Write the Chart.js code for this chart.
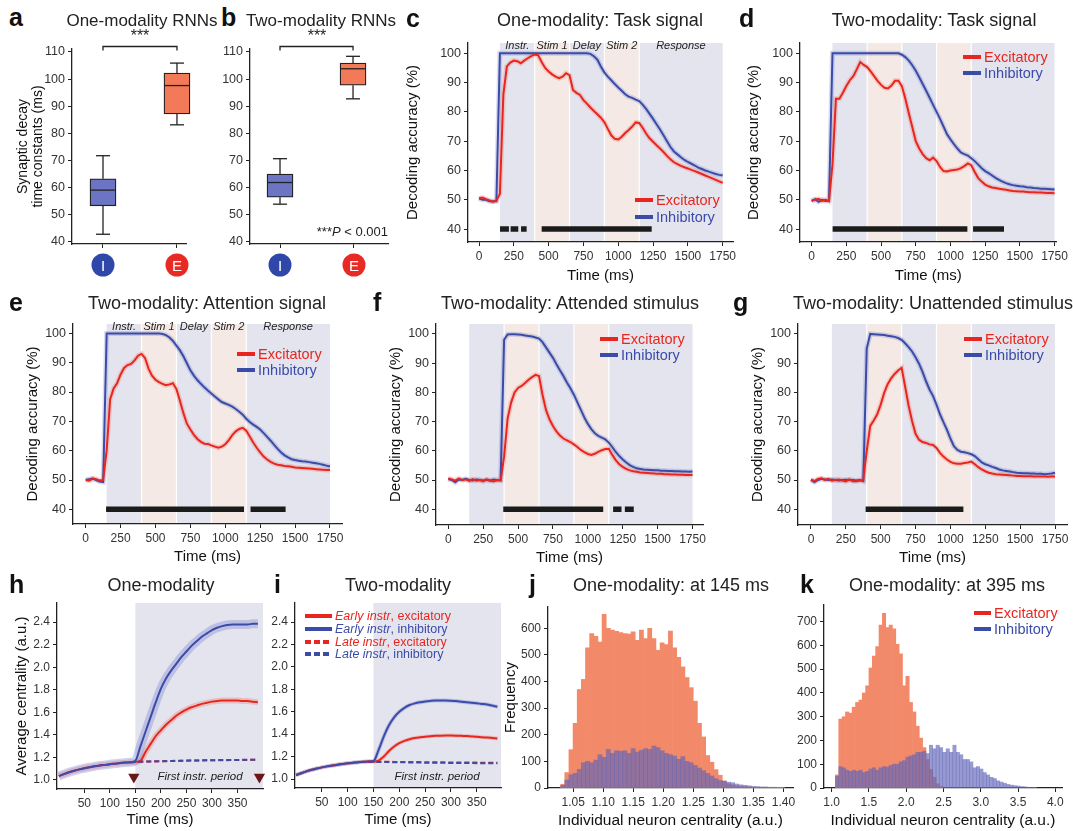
<!DOCTYPE html>
<html>
<head>
<meta charset="utf-8">
<script src="https://cdn.jsdelivr.net/npm/chart.js@4.4.0/dist/chart.umd.min.js"></script>
<style>
body{margin:0;background:#fff;width:1073px;height:831px;position:relative;overflow:hidden;font-family:'Liberation Sans',Arial,sans-serif;color:#222}
canvas{position:absolute}
.t{position:absolute;white-space:nowrap;line-height:1}
.ttl{font-size:18px;transform:translate(-50%,-50%);color:#222}
.let{font-size:25px;font-weight:bold;transform:translateY(-50%);color:#111}
.lg{transform:translateY(-50%)}
.mk{position:absolute}
.circ{position:absolute;width:23px;height:23px;border-radius:50%;color:#fff;font-size:15px;text-align:center;line-height:23px;transform:translate(-50%,-50%)}
</style>
</head>
<body>
<script>
// ---------- data ----------
// box plots: [min, q1, median, q3, max]
var boxPos = [1, 2];
var oneI = [42.7, 53.2, 59, 63.2, 71.7];
var oneE = [83.1, 87.1, 97.6, 102.2, 105.9];
var twoI = [53.8, 56.4, 61.8, 64.9, 70.6];
var twoE = [92.7, 97.7, 103.8, 105.9, 108.4];
var boxTicks = [40, 50, 60, 70, 80, 90, 100, 110];

// decoding accuracy, sampled every 25 ms
var T = [0,25,50,75,100,125,150,175,200,225,250,275,300,325,350,375,400,425,450,475,500,525,550,575,600,625,650,675,700,725,750,775,800,825,850,875,900,925,950,975,1000,1025,1050,1075,1100,1125,1150,1175,1200,1225,1250,1275,1300,1325,1350,1375,1400,1425,1450,1475,1500,1525,1550,1575,1600,1625,1650,1675,1700,1725,1750];
var cInh = [50.5,50,50,49.5,49.5,49.5,100,100,100,100,100,100,100,100,100,100,100,100,100,100,100,100,100,100,100,100,100,100,100,100,100,100,99.8,99,97.8,95.5,93.5,92,90.8,89.5,88.3,87.2,86,85.2,84.8,84.2,83.7,82.5,81,79.3,77.6,75.8,74,72,70,68,66.5,65.5,64.5,63.6,62.9,62.3,61.7,61,60.5,60,59.6,59.2,58.8,58.5,58.3];
var cExc = [50.5,50.8,50.2,49.8,49.3,49.8,52,86,95.5,96.8,97.5,97.3,96.6,97.5,98.3,99,99.6,99.3,97,95,93.8,92.8,92,91.5,92,93.2,92.5,87.5,86.5,85.8,84,82.8,81.5,80.3,79.2,78,76.5,74.2,72,70.8,70.6,71.5,72.8,73.8,75,76.4,76.2,74.6,72.6,71,69.8,68.6,67.5,66.3,65,63.8,62.8,62.2,61.6,61.1,60.7,60.2,59.8,59.3,58.8,58.3,57.8,57.3,56.8,56.3,55.8];
var dInh = [49.5,50.2,49.3,50,49.6,49.8,100,100,100,100,100,100,100,100,100,100,100,100,100,100,100,100,100,100,100,100,99.5,98.7,97.5,95.9,94,91.8,89.5,87.2,84.8,82.4,80,77.6,75,72.4,70.6,69,67.5,66.2,65.6,65.1,64.2,63.2,62,60.8,59.8,59.1,58.3,57.5,56.8,56.2,55.7,55.3,55,54.8,54.6,54.5,54.3,54.2,54,53.9,53.8,53.8,53.7,53.6,53.5];
var dExc = [49.8,50,50.3,49.6,50,49.5,62,84.5,84.5,86.5,88.8,90.8,92.2,94.5,97,96,95.3,93.8,92.2,90.6,89.2,88.2,88,89,90.6,90.6,88.8,84.5,79.5,74.8,70,67.5,65.6,64.2,63.5,64.4,63.2,61.2,59.8,59.7,60,60.2,60.3,60.8,61.5,62.4,61.8,59.5,57.4,56.2,55.2,54.6,54.2,54,53.8,53.6,53.4,53.2,53,52.9,52.8,52.8,52.7,52.6,52.6,52.5,52.5,52.4,52.3,52.3,52.2];
var eInh = [50,50.3,50.5,50,49.5,49.3,100,100,100,100,100,100,100,100,100,100,100,100,100,100,100,100,99.8,99.4,98.6,97.4,95.8,94.2,92.2,89.8,87.4,85.6,84.1,82.8,81.6,80.5,79.5,78.5,77.5,76.6,76.1,75.6,75,74.2,73.3,72.3,70.9,69.8,68.9,68.1,67.2,66,64.7,63.4,62,60.6,59.4,58.4,57.7,57.1,56.8,56.6,56.4,56.3,56.1,55.9,55.7,55.5,55.2,54.9,54.6];
var eExc = [50,49.8,50.5,50.3,49.8,50,60,77.5,81.2,83,86,88.2,89.2,89.6,90.8,92.4,93,91.6,88,85.6,84.2,83.4,82.8,82.3,82.6,83,81,77,72.8,69.2,67.2,65.4,64,63,62.4,62.3,61.8,61.4,61,61.4,62.2,63.6,65.3,66.6,67.4,67.8,66.8,64.8,62.8,61,59.4,58,57,56.2,55.6,55.2,55,54.8,54.7,54.5,54.3,54.2,54.1,54,53.9,53.8,53.7,53.6,53.5,53.4,53.4];
var fInh = [50.3,50,49.2,50.2,50,50.4,50,49.8,50.2,50,49.8,50.1,49.8,50.2,49.9,50,98,99.8,99.9,99.9,99.8,99.7,99.5,99.3,99.1,98.8,98.4,97.2,95.4,93.6,91.8,89.6,87.6,85.6,83.4,81.4,79.2,76.6,74,71.4,69.2,67.4,66,65.1,64.5,63.9,62.8,61.3,59.6,58.2,57,56,55.1,54.5,54,53.8,53.6,53.5,53.4,53.3,53.3,53.2,53.2,53.1,53.1,53,53,52.9,52.9,52.8,52.9];
var fExc = [50.5,50.2,49.8,50.5,50,50.2,49.7,50.3,49.8,50,49.6,50.2,49.8,49.5,50,49.8,58,71,76.5,80,81.5,82.2,83.2,84.3,85.2,86,85.6,79.2,74,70.8,68.5,66.6,65.2,64.2,63.6,63,62.2,61.3,60.3,59.5,58.9,58.6,59,59.6,60.2,60.6,60.7,58.6,56.8,55.4,54.5,53.8,53.3,53,52.8,52.6,52.5,52.4,52.3,52.2,52.1,52.1,52,52,51.9,51.9,51.8,51.8,51.7,51.7,51.7];
var gInh = [50,49.3,50,50.4,50.2,50,50.2,50,49.8,50,50.1,50,50,49.8,50,49.6,95,100,99.9,99.8,99.7,99.6,99.4,99.2,99,98.6,98,96.8,95.5,94,92,89.8,87,83.8,81,78.8,75.8,72.5,69.8,67.2,64.2,61.6,60.3,59.7,59.5,59.2,58.8,58.2,57.1,56,55.4,55,54.5,54.1,53.6,53.3,53.1,52.9,52.7,52.5,52.4,52.3,52.3,52.2,52.2,52.1,52.1,52,52.1,52.2,52.5];
var gExc = [50.2,49.6,50.4,50.6,50,50.4,49.8,50,50.2,49.8,49.5,50.2,49.6,49.6,49.8,50,60,68.5,70.4,72.5,75.8,79.8,82.8,84.8,86.3,87.5,88.4,82,75.5,70.2,65.8,63.8,63,62.7,62.2,62,61,59.3,58,57,56.2,55.7,55.6,55.6,55.8,56,56.3,55.4,54.4,53.6,53,52.5,52.2,52,51.9,51.8,51.7,51.6,51.5,51.4,51.4,51.3,51.3,51.3,51.2,51.2,51.2,51.2,51.1,51.2,51.2];
// significance segments (ms)
var cSig = [[151, 215], [227, 282], [302, 342], [450, 1240]];
var dSig = [[151, 1122], [1163, 1386]];
var eSig = [[146, 1134], [1181, 1432]];
var fSig = [[394, 1110], [1181, 1241], [1265, 1329]];
var gSig = [[392, 1093]];
var phaseEdges = [150, 400, 650, 900, 1150, 1750];
var phaseNames = ['Instr.', 'Stim 1', 'Delay', 'Stim 2', 'Response'];
var accTicks = [40, 50, 60, 70, 80, 90, 100];
var timeTicks = [0, 250, 500, 750, 1000, 1250, 1500, 1750];

// average centrality, every 10 ms
var H = [0,10,20,30,40,50,60,70,80,90,100,110,120,130,140,150,160,170,180,190,200,210,220,230,240,250,260,270,280,290,300,310,320,330,340,350,360,370,380,390];
var hEarlyInh = [1.035,1.052,1.068,1.082,1.094,1.104,1.113,1.121,1.128,1.134,1.14,1.145,1.15,1.154,1.157,1.17,1.30,1.43,1.56,1.69,1.81,1.90,1.97,2.03,2.09,2.14,2.19,2.23,2.27,2.30,2.33,2.35,2.365,2.375,2.38,2.38,2.38,2.38,2.385,2.385];
var hEarlyExc = [1.035,1.052,1.068,1.082,1.094,1.104,1.113,1.121,1.128,1.134,1.14,1.145,1.15,1.154,1.157,1.16,1.17,1.25,1.32,1.39,1.44,1.49,1.53,1.57,1.60,1.625,1.645,1.66,1.675,1.685,1.695,1.70,1.705,1.705,1.705,1.705,1.70,1.70,1.695,1.69];
var hLateInh = [null,null,null,null,null,null,null,null,null,null,null,null,null,null,1.157,1.16,1.162,1.164,1.165,1.166,1.167,1.168,1.169,1.17,1.171,1.172,1.173,1.173,1.174,1.175,1.176,1.176,1.177,1.177,1.178,1.178,1.179,1.179,1.18,1.18];
var hLateExc = [null,null,null,null,null,null,null,null,null,null,null,null,null,null,1.157,1.159,1.161,1.163,1.164,1.165,1.166,1.167,1.168,1.169,1.17,1.171,1.172,1.172,1.173,1.174,1.175,1.175,1.176,1.176,1.177,1.177,1.178,1.178,1.179,1.179];
var iEarlyInh = [1.035,1.052,1.068,1.082,1.094,1.104,1.113,1.121,1.128,1.134,1.14,1.145,1.15,1.154,1.157,1.16,1.26,1.38,1.48,1.55,1.60,1.635,1.66,1.675,1.685,1.692,1.697,1.70,1.70,1.70,1.698,1.695,1.69,1.685,1.68,1.675,1.67,1.665,1.655,1.645];
var iEarlyExc = [1.035,1.052,1.068,1.082,1.094,1.104,1.113,1.121,1.128,1.134,1.14,1.145,1.15,1.154,1.157,1.155,1.165,1.20,1.25,1.29,1.32,1.34,1.355,1.365,1.372,1.378,1.382,1.385,1.387,1.388,1.388,1.387,1.385,1.383,1.38,1.377,1.373,1.37,1.366,1.362];
var iLateInh = [null,null,null,null,null,null,null,null,null,null,null,null,null,null,1.155,1.154,1.153,1.152,1.151,1.15,1.15,1.149,1.148,1.148,1.147,1.146,1.146,1.145,1.145,1.144,1.144,1.143,1.143,1.142,1.142,1.141,1.141,1.141,1.14,1.14];
var iLateExc = [null,null,null,null,null,null,null,null,null,null,null,null,null,null,1.155,1.155,1.155,1.154,1.154,1.153,1.153,1.152,1.152,1.151,1.151,1.15,1.15,1.15,1.149,1.149,1.148,1.148,1.148,1.147,1.147,1.147,1.146,1.146,1.146,1.145];
var markT = [147, 393];
var markY = [1.027, 1.027];
var centTicksY = [1.0, 1.2, 1.4, 1.6, 1.8, 2.0, 2.2, 2.4];
var centTicksX = [50, 100, 150, 200, 250, 300, 350];

// histograms
var jBins = [1.0325,1.0394,1.0463,1.0532,1.0601,1.0670,1.0739,1.0808,1.0877,1.0946,1.1015,1.1084,1.1153,1.1222,1.1291,1.1360,1.1429,1.1498,1.1567,1.1636,1.1705,1.1774,1.1843,1.1912,1.1981,1.2050,1.2119,1.2188,1.2257,1.2326,1.2395,1.2464,1.2533,1.2602,1.2671,1.2740,1.2809,1.2878,1.2947,1.3016,1.3085,1.3154,1.3223,1.3292,1.3361,1.3430,1.3499,1.3568,1.3637,1.3706,1.3775,1.3844,1.3913,1.3982];
var jExc = [14,58,144,243,370,408,527,580,570,548,652,600,593,589,584,580,578,587,555,593,561,600,561,517,545,539,590,527,491,455,415,377,326,243,192,122,97,69,48,27,16,12,8,6,5,4,3,3,2,2,1,1,1,1];
var jInh = [10,30,50,55,70,95,100,95,105,125,115,145,130,140,138,140,130,148,135,142,148,145,158,152,140,130,125,120,108,118,100,95,85,75,65,55,45,35,28,25,22,20,15,12,10,8,6,5,4,4,3,3,2,2];
var kBins = [1.0725,1.1175,1.1625,1.2075,1.2525,1.2975,1.3425,1.3875,1.4325,1.4775,1.5225,1.5675,1.6125,1.6575,1.7025,1.7475,1.7925,1.8375,1.8825,1.9275,1.9725,2.0175,2.0625,2.1075,2.1525,2.1975,2.2425,2.2875,2.3325,2.3775,2.4225,2.4675,2.5125,2.5575,2.6025,2.6475,2.6925,2.7375,2.7825,2.8275,2.8725,2.9175,2.9625,3.0075,3.0525,3.0975,3.1425,3.1875,3.2325,3.2775,3.3225,3.3675,3.4125,3.4575,3.5025,3.5475,3.5925,3.6375,3.6825,3.7275];
var kExc = [55,290,300,320,315,340,360,370,400,430,505,555,595,685,735,675,685,670,605,565,430,470,360,320,260,210,170,120,78,45,18,6,0,0,0,0,0,0,0,0,0,0,0,0,0,0,0,0,0,0,0,0,0,0,0,0,0,0,0,0];
var kInh = [50,90,85,75,70,75,70,75,65,70,80,85,75,85,90,88,95,100,100,110,115,130,135,140,150,150,155,145,180,165,180,170,150,165,150,180,150,140,120,120,110,85,90,80,65,55,45,40,30,25,20,15,12,10,8,6,5,3,2,2];
var jTicksX = [1.05, 1.10, 1.15, 1.20, 1.25, 1.30, 1.35, 1.40];
var jTicksY = [0, 100, 200, 300, 400, 500, 600];
var kTicksX = [1.0, 1.5, 2.0, 2.5, 3.0, 3.5, 4.0];
var kTicksY = [0, 100, 200, 300, 400, 500, 600, 700];

// ---------- helpers ----------
var FONT = "'Liberation Sans', Arial, sans-serif";
Chart.defaults.font.family = FONT;
Chart.defaults.color = '#333';
var RED = '#e8261f', BLUE = '#3b4ba8';

function txt(html, x, y, cls, style) {
  var d = document.createElement('div');
  d.className = 't ' + cls;
  d.style.left = x + 'px';
  d.style.top = y + 'px';
  if (style) d.style.cssText += style;
  d.innerHTML = html;
  document.body.appendChild(d);
}

function legend(x, ys, rows, fs, mw) {
  rows.forEach(function(r, i) {
    var mk = document.createElement('div');
    mk.className = 'mk';
    var bg = r.dash ? 'repeating-linear-gradient(90deg,' + r.c + ' 0 6px,transparent 6px 9px)' : r.c;
    mk.style.cssText = 'left:' + x + 'px;top:' + (ys[i] - 2) + 'px;width:' + mw + 'px;height:4px;background:' + bg;
    document.body.appendChild(mk);
    txt(r.t, x + mw + 3, ys[i], 'lg', 'font-size:' + fs + 'px;color:' + r.c);
  });
}

function place(area, m) {
  var cv = document.createElement('canvas');
  var w = area[2] - area[0] + m[0] + m[2], h = area[3] - area[1] + m[1] + m[3];
  cv.width = w; cv.height = h;
  cv.style.left = (area[0] - m[0]) + 'px';
  cv.style.top = (area[1] - m[1]) + 'px';
  cv.style.width = w + 'px';
  cv.style.height = h + 'px';
  document.body.appendChild(cv);
  return cv;
}

function axis(o) {
  return {
    type: 'linear', min: o.min, max: o.max, offset: false,
    afterBuildTicks: function(s) { s.ticks = o.ticks.map(function(v) { return {value: v}; }); },
    afterFit: function(s) { if (o.h) s.height = o.fit; else s.width = o.fit; },
    grid: {display: true, drawOnChartArea: false, drawTicks: true, tickLength: 4, color: '#222', offset: false},
    border: {display: true, color: '#222', width: 1.3},
    ticks: {color: '#333', font: {size: o.size || 12}, padding: 3, maxRotation: 0, autoSkip: false,
      callback: o.fmt || function(v) { return String(v); }},
    title: o.title ? {display: true, text: o.title, color: '#111',
      font: {size: o.tsize || 15, lineHeight: o.tlh || 1.2},
      padding: o.h ? {top: 0, bottom: o.tpad} : {top: o.tpad, bottom: 0}} : {display: false}
  };
}

function pts(xs, ys) { return xs.map(function(x, i) { return {x: x, y: ys[i]}; }); }
function sigData(segs) {
  var d = [];
  segs.forEach(function(s) { d.push({x: s[0], y: 40}, {x: s[1], y: 40}, {x: s[1], y: null}); });
  return d;
}

var bandPlugin = {
  id: 'bands',
  beforeDraw: function(chart, args, o) {
    if (!o || !o.edges) return;
    var ctx = chart.ctx, a = chart.chartArea, x = chart.scales.x;
    ctx.save();
    for (var i = 0; i < o.edges.length - 1; i++) {
      var x0 = x.getPixelForValue(o.edges[i]), x1 = x.getPixelForValue(o.edges[i + 1]);
      ctx.fillStyle = o.colors[i % o.colors.length];
      ctx.fillRect(x0, a.top, x1 - x0, a.bottom - a.top);
      if (i > 0) { ctx.fillStyle = '#fff'; ctx.fillRect(x0 - 0.6, a.top, 1.2, a.bottom - a.top); }
    }
    if (o.labels) {
      ctx.fillStyle = '#222';
      ctx.font = 'italic 11px ' + FONT;
      ctx.textAlign = 'center';
      ctx.textBaseline = 'middle';
      for (var k = 0; k < o.labels.length; k++) {
        var cx = (x.getPixelForValue(o.edges[k]) + x.getPixelForValue(o.edges[k + 1])) / 2;
        ctx.fillText(o.labels[k], cx, a.top + 3);
      }
    }
    ctx.restore();
  }
};

var boxPlugin = {
  id: 'boxes',
  afterDatasetsDraw: function(chart, args, o) {
    if (!o || !o.stats) return;
    var ctx = chart.ctx, a = chart.chartArea, x = chart.scales.x, y = chart.scales.y;
    function line(x0, y0, x1, y1) { ctx.beginPath(); ctx.moveTo(x0, y0); ctx.lineTo(x1, y1); ctx.stroke(); }
    ctx.save();
    ctx.strokeStyle = '#222';
    ctx.lineWidth = 1.3;
    o.stats.forEach(function(s, i) {
      var px = x.getPixelForValue(o.pos[i]);
      line(px, y.getPixelForValue(s[0]), px, y.getPixelForValue(s[1]));
      line(px, y.getPixelForValue(s[3]), px, y.getPixelForValue(s[4]));
      line(px - 7, y.getPixelForValue(s[0]), px + 7, y.getPixelForValue(s[0]));
      line(px - 7, y.getPixelForValue(s[4]), px + 7, y.getPixelForValue(s[4]));
      line(px - 13, y.getPixelForValue(s[2]), px + 13, y.getPixelForValue(s[2]));
    });
    var b0 = x.getPixelForValue(o.pos[0]), b1 = x.getPixelForValue(o.pos[1]), by = a.top - 2.5;
    ctx.beginPath();
    ctx.moveTo(b0, by + 4); ctx.lineTo(b0, by); ctx.lineTo(b1, by); ctx.lineTo(b1, by + 4);
    ctx.stroke();
    ctx.restore();
  }
};

function baseOpts(m, xs, ys, extra) {
  var o = {
    responsive: false, animation: false, events: [],
    layout: {padding: {top: m[1], right: m[2], left: 0, bottom: 0}},
    plugins: {legend: {display: false}, tooltip: {enabled: false}},
    elements: {point: {radius: 0}},
    scales: {x: xs, y: ys}
  };
  for (var k in extra) o.plugins[k] = extra[k];
  return o;
}

// ---------- box plots a, b ----------
function boxPanel(area, m, xr, stats, ytitle) {
  var cv = place(area, m);
  new Chart(cv, {
    type: 'bar',
    data: {datasets: [{
      data: [{x: boxPos[0], y: [stats[0][1], stats[0][3]]}, {x: boxPos[1], y: [stats[1][1], stats[1][3]]}],
      backgroundColor: ['#6c74c4', '#f27a58'], borderColor: '#222', borderWidth: 1.3,
      borderSkipped: false, barThickness: 26, clip: false
    }]},
    options: baseOpts(m,
      axis({min: xr[0], max: xr[1], ticks: boxPos, h: true, fit: m[3], fmt: function() { return ''; }}),
      axis({min: 39.1, max: 111.1, ticks: boxTicks, fit: m[0], size: 12.5,
        title: ytitle, tsize: 14, tlh: 1.1, tpad: 5}),
      {boxes: {stats: stats, pos: boxPos}}),
    plugins: [boxPlugin]
  });
}
boxPanel([72, 49, 186, 244], [62, 14, 12, 14], [0.581, 2.122], [oneI, oneE], ['Synaptic decay', 'time constants (ms)']);
boxPanel([250, 49, 388, 244], [45, 14, 12, 14], [0.589, 2.479], [twoI, twoE], null);

// ---------- decoding accuracy c-g ----------
function accPanel(area, m, xr, yr, inh, exc, sig, labels, ytp, xtp) {
  var cv = place(area, m);
  new Chart(cv, {
    type: 'line',
    data: {datasets: [
      {data: pts(T, exc), borderColor: RED, borderWidth: 2, order: 0},
      {data: pts(T, inh), borderColor: BLUE, borderWidth: 2, order: 1},
      {data: pts(T, exc), borderColor: 'rgba(235,80,70,0.22)', borderWidth: 5, order: 2},
      {data: pts(T, inh), borderColor: 'rgba(80,95,185,0.22)', borderWidth: 5, order: 3},
      {data: sigData(sig), borderColor: '#1b1b1b', borderWidth: 5.5, borderCapStyle: 'butt', order: 4}
    ]},
    options: baseOpts(m,
      axis({min: xr[0], max: xr[1], ticks: timeTicks, h: true, fit: m[3], title: 'Time (ms)', tpad: xtp}),
      axis({min: yr[0], max: yr[1], ticks: accTicks, fit: m[0], size: 12.5, title: 'Decoding accuracy (%)', tpad: ytp}),
      {bands: {edges: phaseEdges, colors: ['#e3e4ee', '#f4e9e4'], labels: labels}}),
    plugins: [bandPlugin]
  });
}
accPanel([468, 43, 733, 242], [66, 12, 12, 46], [-79, 1824], [35.6, 103.5], cInh, cExc, cSig, phaseNames, 2, 3);
accPanel([800, 43, 1057, 242], [60, 12, 14, 46], [-84, 1764], [35.6, 103.5], dInh, dExc, dSig, null, 5, 3);
accPanel([73, 324, 342, 524], [62, 12, 12, 46], [-91, 1836], [35.0, 103.2], eInh, eExc, eSig, phaseNames, 12.8, 4);
accPanel([436, 324, 703, 525], [62, 12, 12, 46], [-88, 1825], [34.6, 103.4], fInh, fExc, fSig, null, 12.5, 4);
accPanel([798, 324, 1067, 525], [62, 12, 6, 46], [-93, 1836], [34.6, 103.4], gInh, gExc, gSig, null, 12.5, 4);

// ---------- centrality h, i ----------
function centPanel(area, m, xr, ei, ee, li, le, ytitle, ytp, bandEnd, markers, haloW) {
  var cv = place(area, m);
  var ds = [
    {data: pts(H, li), borderColor: BLUE, borderDash: [5, 3], borderWidth: 2, order: 0},
    {data: pts(H, le), borderColor: RED, borderDash: [5, 3], borderWidth: 2, order: 1},
    {data: pts(H, ei), borderColor: BLUE, borderWidth: 2, order: 2, cubicInterpolationMode: 'monotone'},
    {data: pts(H, ee), borderColor: RED, borderWidth: 2, order: 3, cubicInterpolationMode: 'monotone'},
    {data: pts(H, ei), borderColor: 'rgba(90,100,200,0.28)', borderWidth: haloW[0], order: 4, cubicInterpolationMode: 'monotone'},
    {data: pts(H, ee), borderColor: 'rgba(240,110,90,0.3)', borderWidth: haloW[1], order: 5, cubicInterpolationMode: 'monotone'}
  ];
  if (markers) ds.push({data: pts(markT, markY), showLine: false, pointRadius: 6.5, pointStyle: 'triangle',
    pointRotation: 180, pointBackgroundColor: '#6b1717', pointBorderWidth: 0, clip: false, order: -1});
  new Chart(cv, {
    type: 'line',
    data: {datasets: ds},
    options: baseOpts(m,
      axis({min: xr[0], max: xr[1], ticks: centTicksX, h: true, fit: m[3], title: 'Time (ms)', tpad: 2}),
      axis({min: 0.92, max: 2.57, ticks: centTicksY, fit: m[0], title: ytitle, tpad: ytp,
        fmt: function(v) { return v.toFixed(1); }}),
      {bands: {edges: [150, bandEnd], colors: ['#e3e4ee']}}),
    plugins: [bandPlugin]
  });
}
centPanel([57, 603, 263, 789], [52, 12, 12, 42], [-3.5, 400], hEarlyInh, hEarlyExc, hLateInh, hLateExc,
  'Average centrality (a.u.)', 8, 400, true, [9, 6]);
centPanel([295, 603, 501, 788], [26, 12, 12, 43], [-2, 397], iEarlyInh, iEarlyExc, iLateInh, iLateExc,
  null, 0, 397, false, [4, 4]);

// ---------- histograms j, k ----------
function histPanel(area, m, xr, yr, bins, exc, inh, xt, yt, xfmt, ytitle) {
  var cv = place(area, m);
  var o = baseOpts(m,
    axis({min: xr[0], max: xr[1], ticks: xt, h: true, fit: m[3], title: 'Individual neuron centrality (a.u.)',
      tsize: 15.5, tpad: 1, fmt: xfmt}),
    axis({min: yr[0], max: yr[1], ticks: yt, fit: m[0], title: ytitle, tpad: 2}), {});
  o.datasets = {bar: {grouped: false, categoryPercentage: 1, barPercentage: 1}};
  new Chart(cv, {
    type: 'bar',
    data: {datasets: [
      {data: pts(bins, inh), backgroundColor: 'rgba(95,100,185,0.65)', order: 0},
      {data: pts(bins, exc), backgroundColor: '#f28a6a', order: 1}
    ]},
    options: o
  });
}
histPanel([548, 607, 793, 788], [48, 12, 14, 43], [1.008, 1.416], [0, 680], jBins, jExc, jInh, jTicksX, jTicksY,
  function(v) { return v.toFixed(2); }, 'Frequency');
histPanel([824, 605, 1062, 788], [27, 12, 10, 43], [0.897, 4.09], [0, 770], kBins, kExc, kInh, kTicksX, kTicksY,
  function(v) { return v.toFixed(1); }, null);

// ---------- text ----------
[['a', 9, 17], ['b', 221, 17], ['c', 406, 18], ['d', 739, 18], ['e', 9, 302], ['f', 373, 302], ['g', 733, 302],
 ['h', 9, 584], ['i', 274, 584], ['j', 529, 584], ['k', 800, 584]].forEach(function(l) { txt(l[0], l[1], l[2], 'let'); });

txt('One-modality RNNs', 142, 20, 'ttl', 'font-size:17px');
txt('Two-modality RNNs', 321, 20, 'ttl', 'font-size:17px');
txt('One-modality: Task signal', 600, 20, 'ttl');
txt('Two-modality: Task signal', 934, 20, 'ttl');
txt('Two-modality: Attention signal', 207, 303, 'ttl');
txt('Two-modality: Attended stimulus', 570, 303, 'ttl');
txt('Two-modality: Unattended stimulus', 933, 303, 'ttl');
txt('One-modality', 161, 585, 'ttl');
txt('Two-modality', 398, 585, 'ttl');
txt('One-modality: at 145 ms', 671, 585, 'ttl');
txt('One-modality: at 395 ms', 947, 585, 'ttl');

txt('***', 140, 36, 'ttl', 'font-size:16px');
txt('***', 317, 36, 'ttl', 'font-size:16px');
txt('***<i>P</i> &lt; 0.001', 388, 231, 'ttl', 'font-size:13px;transform:translate(-100%,-50%)');

[[103, 'I', '#2f47a8'], [177, 'E', '#e82a24'], [280, 'I', '#2f47a8'], [354, 'E', '#e82a24']].forEach(function(c) {
  var d = document.createElement('div');
  d.className = 'circ';
  d.style.left = c[0] + 'px';
  d.style.top = '265px';
  d.style.background = c[2];
  d.textContent = c[1];
  document.body.appendChild(d);
});

txt('<i>First instr. period</i>', 200, 777, 'ttl', 'font-size:11.5px');
txt('<i>First instr. period</i>', 437, 777, 'ttl', 'font-size:11.5px');

var EI = [{c: RED, t: 'Excitatory'}, {c: BLUE, t: 'Inhibitory'}];
legend(635, [200, 217], EI, 14.5, 18);
legend(963, [57, 73], EI, 14.5, 18);
legend(237, [354, 370], EI, 14.5, 18);
legend(600, [339, 355], EI, 14.5, 18);
legend(964, [339, 355], EI, 14.5, 18);
legend(974, [613, 629], EI, 14.5, 17);
legend(305, [616, 629, 642, 654], [
  {c: RED, t: '<i>Early instr</i>, excitatory'},
  {c: BLUE, t: '<i>Early instr</i>, inhibitory'},
  {c: RED, t: '<i>Late instr</i>, excitatory', dash: true},
  {c: BLUE, t: '<i>Late instr</i>, inhibitory', dash: true}
], 12.5, 27);
</script>
</body>
</html>
